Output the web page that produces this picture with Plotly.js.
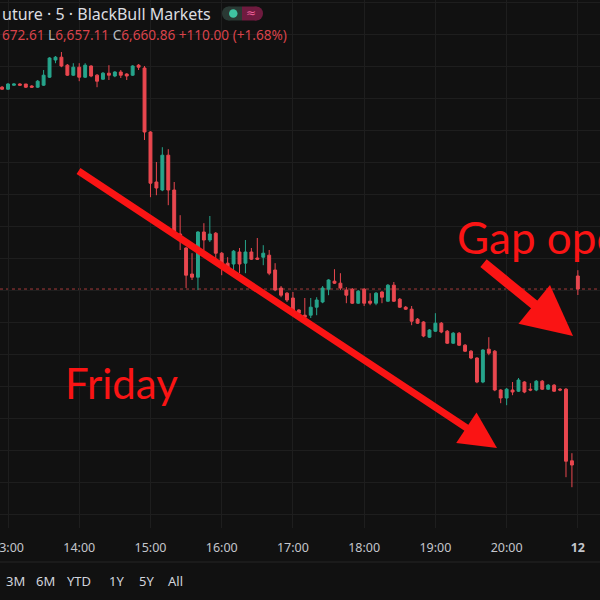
<!DOCTYPE html>
<html>
<head>
<meta charset="utf-8">
<script src="https://cdn.plot.ly/plotly-3.0.1.min.js"></script>
<style>
  html, body { margin: 0; padding: 0; background: #111111; }
  #chart { width: 600px; height: 600px; }
</style>
</head>
<body>
<div id="chart"></div>
<script>
// 5-minute bars, Friday afternoon session plus the first bar of the 12th
const times = [
  '12:55',
  '13:00','13:05','13:10','13:15','13:20','13:25','13:30','13:35','13:40','13:45','13:50','13:55',
  '14:00','14:05','14:10','14:15','14:20','14:25','14:30','14:35','14:40','14:45','14:50','14:55',
  '15:00','15:05','15:10','15:15','15:20','15:25','15:30','15:35','15:40','15:45','15:50','15:55',
  '16:00','16:05','16:10','16:15','16:20','16:25','16:30','16:35','16:40','16:45','16:50','16:55',
  '17:00','17:05','17:10','17:15','17:20','17:25','17:30','17:35','17:40','17:45','17:50','17:55',
  '18:00','18:05','18:10','18:15','18:20','18:25','18:30','18:35','18:40','18:45','18:50','18:55',
  '19:00','19:05','19:10','19:15','19:20','19:25','19:30','19:35','19:40','19:45','19:50','19:55',
  '20:00','20:05','20:10','20:15','20:20','20:25','20:30','20:35','20:40','20:45','20:50','20:55',
  '12'
];

const openP = [
  6787.00,
  6785.75,6788.25,6789.00,6789.00,6787.75,6787.00,6788.25,6793.25,6804.00,6805.75,6800.75,6794.50,
  6799.50,6793.25,6800.25,6794.50,6792.00,6795.75,6794.00,6796.50,6795.25,6794.50,6800.75,6799.00,
  6759.00,6727.75,6722.75,6744.50,6722.75,6695.25,6686.50,6670.25,6668.25,6696.50,6691.50,6695.75,
  6683.25,6677.00,6676.50,6684.00,6677.00,6684.00,6680.25,6680.75,6682.00,6672.75,6661.50,6658.25,
  6655.25,6647.75,6644.50,6644.50,6649.50,6652.75,6660.75,6665.75,6664.50,6660.25,6660.75,6652.00,
  6660.75,6653.25,6652.00,6659.00,6653.25,6663.25,6654.50,6649.50,6648.25,6642.00,6640.25,6630.75,
  6634.50,6639.50,6634.50,6627.00,6633.25,6625.75,6622.00,6617.75,6602.75,6623.25,6622.00,6597.75,
  6592.75,6597.75,6597.00,6602.75,6598.25,6597.75,6603.25,6598.25,6600.75,6598.25,6598.25,6553.50,
  6669.00
];

const highP = [
  6787.75,
  6789.50,6789.50,6789.50,6789.00,6788.25,6791.50,6797.75,6805.75,6806.50,6809.00,6801.50,6802.00,
  6802.00,6802.00,6800.75,6795.25,6796.50,6800.75,6797.00,6797.75,6795.75,6800.75,6801.50,6800.25,
  6759.50,6740.25,6749.50,6748.25,6727.75,6707.00,6687.00,6683.25,6697.00,6702.00,6706.50,6696.50,
  6684.00,6680.75,6685.25,6686.50,6691.50,6686.50,6692.75,6688.25,6685.25,6677.00,6662.75,6659.00,
  6659.00,6648.25,6655.25,6655.25,6655.75,6662.75,6667.00,6673.25,6670.75,6662.00,6661.50,6660.25,
  6661.50,6658.25,6659.00,6659.50,6664.00,6665.25,6655.25,6650.25,6650.25,6642.75,6640.75,6635.75,
  6645.75,6640.25,6635.25,6634.00,6634.00,6626.50,6622.75,6618.25,6623.25,6630.75,6622.75,6598.25,
  6599.00,6602.75,6605.25,6603.25,6602.00,6604.00,6604.00,6601.50,6601.50,6599.00,6599.00,6558.25,
  6672.61
];

const lowP = [
  6785.25,
  6785.25,6787.75,6787.75,6786.50,6786.50,6786.50,6787.75,6792.75,6802.00,6799.50,6794.00,6794.00,
  6790.75,6792.75,6793.25,6787.00,6791.50,6791.50,6793.25,6792.75,6791.50,6794.00,6797.75,6754.00,
  6718.25,6719.50,6722.00,6713.25,6695.75,6685.25,6661.50,6666.50,6660.25,6685.25,6690.25,6677.00,
  6669.50,6672.75,6672.00,6670.75,6670.75,6679.00,6679.00,6675.75,6669.50,6659.50,6655.75,6652.75,
  6647.00,6644.50,6642.75,6642.75,6644.50,6652.00,6657.00,6664.00,6660.25,6652.00,6651.50,6651.50,
  6650.25,6650.75,6650.75,6652.00,6652.75,6652.75,6649.00,6647.75,6638.25,6639.00,6630.75,6630.25,
  6634.00,6633.25,6626.50,6626.50,6625.25,6621.50,6617.00,6602.00,6602.00,6619.50,6597.00,6589.50,
  6588.25,6594.50,6596.50,6595.75,6597.00,6597.00,6597.75,6597.75,6596.50,6597.00,6543.25,6537.00,
  6657.11
];

const closeP = [
  6785.75,
  6789.00,6789.00,6788.25,6787.00,6787.00,6790.75,6794.50,6805.25,6805.75,6800.25,6794.50,6799.50,
  6793.25,6800.75,6794.00,6790.75,6795.75,6794.50,6796.50,6794.50,6794.00,6800.25,6799.50,6759.00,
  6727.00,6724.00,6744.50,6722.75,6696.50,6692.75,6669.50,6668.25,6696.50,6691.50,6695.25,6683.25,
  6677.00,6674.50,6684.50,6676.50,6684.00,6679.50,6679.50,6683.25,6670.75,6660.25,6657.00,6654.00,
  6647.75,6645.75,6643.25,6649.50,6654.00,6661.50,6666.50,6664.50,6661.50,6657.00,6652.00,6659.50,
  6652.00,6652.00,6658.25,6655.75,6663.25,6653.25,6649.50,6648.25,6640.75,6639.50,6631.50,6635.25,
  6639.50,6634.00,6627.00,6633.25,6625.75,6622.00,6617.75,6602.75,6622.75,6620.75,6597.75,6592.75,
  6598.25,6596.50,6604.00,6596.50,6597.75,6603.25,6598.25,6600.75,6597.00,6597.75,6553.25,6550.86,
  6660.86
];

const hourTicks  = ['13:00','14:00','15:00','16:00','17:00','18:00','19:00','20:00','12'];
const hourLabels = ['13:00','14:00','15:00','16:00','17:00','18:00','19:00','20:00','<b>12</b>'];
const rangeButtons = ['3M','6M','YTD','1Y','5Y','All'];

const titleText = 'uture · 5 · BlackBull Markets';
const lastPrice = closeP[closeP.length - 1];

// page geometry helpers: pixel -> paper coordinates of the price pane
const W = 600, PANE_H = 528;
const X = px => px / W;
const Y = py => 1 - py / PANE_H;

const UP = '#26a48b', DOWN = '#e9474f';
const ANN_RED = '#fa1414';

const candles = {
  type: 'candlestick',
  x: times, open: openP, high: highP, low: lowP, close: closeP,
  increasing: { line: { color: UP, width: 1 }, fillcolor: UP },
  decreasing: { line: { color: DOWN, width: 1 }, fillcolor: DOWN },
  whiskerwidth: 0,
  hoverinfo: 'skip',
  showlegend: false
};

const buttonX = [15, 45, 79, 116, 146, 175];

const annotations = [
  // symbol header
  { xref: 'paper', yref: 'paper', x: X(0), y: Y(14), xanchor: 'left', yanchor: 'middle',
    text: titleText, showarrow: false,
    font: { family: 'Noto Sans', size: 16, color: '#dcdde0' } },
  { xref: 'paper', yref: 'paper', x: X(0), y: Y(34), xanchor: 'left', yanchor: 'middle',
    text: '<span style="color:#d9434b">672.61</span> <span style="color:#b8bbc2">L</span><span style="color:#d9434b">6,657.11</span> ' +
          '<span style="color:#b8bbc2">C</span><span style="color:#d9434b">6,660.86</span> ' +
          '<span style="color:#d9434b">+110.00 (+1.68%)</span>',
    showarrow: false, font: { family: 'Noto Sans', size: 13.6, color: '#d9434b' } },
  { xref: 'paper', yref: 'paper', x: X(251), y: Y(13.5), xanchor: 'center', yanchor: 'middle',
    text: '≈', showarrow: false, font: { family: 'DejaVu Sans', size: 12, color: '#f0609a' } },

  // hand-drawn trend arrows
  { xref: 'paper', yref: 'paper', x: X(497), y: Y(448), axref: 'pixel', ayref: 'pixel',
    ax: -420, ay: -278, text: '', showarrow: true, arrowhead: 2, arrowsize: 1.05,
    arrowwidth: 7, arrowcolor: ANN_RED, standoff: 0 },
  { xref: 'paper', yref: 'paper', x: X(573), y: Y(336), axref: 'pixel', ayref: 'pixel',
    ax: -91, ay: -74, text: '', showarrow: true, arrowhead: 2, arrowsize: 1,
    arrowwidth: 10, arrowcolor: ANN_RED, standoff: 0 },

  // hand-written labels
  { xref: 'paper', yref: 'paper', x: X(63), y: Y(383), xanchor: 'left', yanchor: 'middle',
    text: 'Friday', showarrow: false, font: { family: 'Lato', size: 42, color: ANN_RED } },
  { xref: 'paper', yref: 'paper', x: X(455), y: Y(237), xanchor: 'left', yanchor: 'middle',
    text: 'Gap open', showarrow: false, font: { family: 'Lato', size: 44, color: ANN_RED } }
].concat(rangeButtons.map((t, i) => ({
  xref: 'paper', yref: 'paper', x: X(buttonX[i]), y: Y(581), xanchor: 'center', yanchor: 'middle',
  text: t, showarrow: false, font: { family: 'Noto Sans', size: 13, color: '#d1d4dc' }
})));

const shapes = [
  // last-price line
  { type: 'line', xref: 'paper', yref: 'y', x0: 0, x1: 1, y0: lastPrice, y1: lastPrice,
    line: { color: 'rgba(214,72,72,0.75)', width: 1, dash: 'dot' }, layer: 'below' },
  // separator between time scale and range buttons
  { type: 'line', xref: 'paper', yref: 'paper', x0: 0, x1: 1, y0: Y(562), y1: Y(562),
    line: { color: '#262626', width: 1 } },
  // legend toggle pill
  { type: 'circle', xref: 'paper', yref: 'paper', x0: X(222), x1: X(235), y0: Y(20.5), y1: Y(6.5),
    fillcolor: '#2a3934', line: { width: 0 } },
  { type: 'rect', xref: 'paper', yref: 'paper', x0: X(228.5), x1: X(242), y0: Y(20.5), y1: Y(6.5),
    fillcolor: '#2a3934', line: { width: 0 } },
  { type: 'rect', xref: 'paper', yref: 'paper', x0: X(242), x1: X(256.5), y0: Y(20.5), y1: Y(6.5),
    fillcolor: '#6f1b3f', line: { width: 0 } },
  { type: 'circle', xref: 'paper', yref: 'paper', x0: X(250), x1: X(263), y0: Y(20.5), y1: Y(6.5),
    fillcolor: '#6f1b3f', line: { width: 0 } },
  { type: 'circle', xref: 'paper', yref: 'paper', x0: X(229), x1: X(237.5), y0: Y(17.8), y1: Y(9.2),
    fillcolor: '#3fc3a2', line: { width: 0 } }
];

const layout = {
  width: 600, height: 600,
  margin: { l: 0, r: 0, t: 0, b: 72, pad: 0 },
  paper_bgcolor: '#111111',
  plot_bgcolor: '#111111',
  showlegend: false,
  hovermode: false,
  xaxis: {
    type: 'category',
    range: [-0.348, 100.73],
    rangeslider: { visible: false },
    tickmode: 'array',
    tickvals: hourTicks,
    ticktext: hourLabels,
    ticks: 'outside', ticklen: 8, tickcolor: 'rgba(0,0,0,0)',
    tickfont: { family: 'Noto Sans', size: 12.5, color: '#c4c6cc' },
    showgrid: true, gridcolor: '#1e1e1e', gridwidth: 1,
    zeroline: false, showline: false, fixedrange: true
  },
  yaxis: {
    range: [6511.5, 6841.5],
    tick0: 0, dtick: 20,
    showticklabels: false, ticks: '',
    showgrid: true, gridcolor: '#1e1e1e', gridwidth: 1,
    zeroline: false, showline: false, fixedrange: true
  },
  annotations: annotations,
  shapes: shapes
};

Plotly.newPlot('chart', [candles], layout, { staticPlot: true, displayModeBar: false });
</script>
</body>
</html>
